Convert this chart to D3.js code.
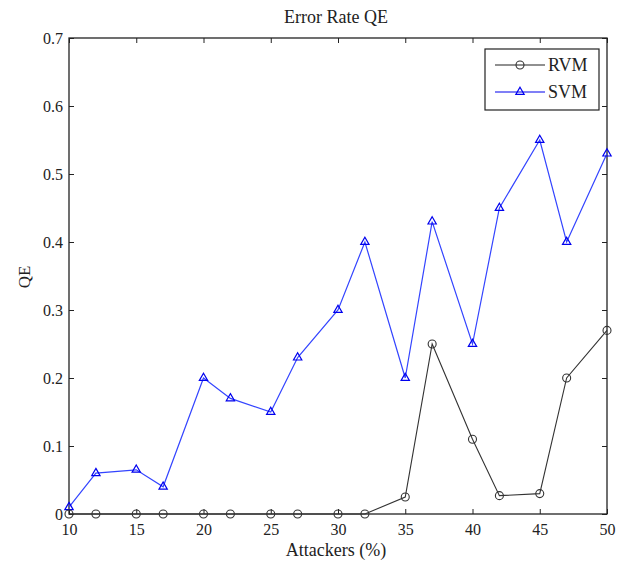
<!DOCTYPE html>
<html>
<head>
<meta charset="utf-8">
<script src="https://cdn.jsdelivr.net/npm/d3@7"></script>
<style>
  html, body { margin: 0; padding: 0; background: #fff; }
  svg text { font-family: "Liberation Serif", "Times New Roman", serif; fill: #222; }
</style>
</head>
<body>
<svg id="chart" width="627" height="567"></svg>
<script>
// Attacker percentage at each measurement
const attackers = [10, 12, 15, 17, 20, 22, 25, 27, 30, 32, 35, 37, 40, 42, 45, 47, 50];
// QE error rate per classifier
const rvmValues = [0, 0, 0, 0, 0, 0, 0, 0, 0, 0, 0.025, 0.25, 0.11, 0.027, 0.03, 0.2, 0.27];
const svmValues = [0.01, 0.06, 0.065, 0.04, 0.2, 0.17, 0.15, 0.23, 0.3, 0.4, 0.2, 0.43, 0.25, 0.45, 0.55, 0.4, 0.53];
const xTicks = [10, 15, 20, 25, 30, 35, 40, 45, 50];
const yTicks = [0, 0.1, 0.2, 0.3, 0.4, 0.5, 0.6, 0.7];
const seriesNames = ["RVM", "SVM"];

const serif = "'Liberation Serif', 'Times New Roman', serif";
const svg = d3.select("#chart");
const m = { left: 69, right: 607, top: 38, bottom: 514 };

const x = d3.scaleLinear().domain([10, 50]).range([m.left, m.right]);
const y = d3.scaleLinear().domain([0, 0.7]).range([m.bottom, m.top]);

const tickLen = 5;

// Bottom axis with labels, top axis as mirrored inward ticks
const gx = svg.append("g").attr("transform", `translate(0,${m.bottom})`)
  .call(d3.axisBottom(x).tickValues(xTicks).tickFormat(d3.format("d"))
    .tickSizeInner(-tickLen).tickSizeOuter(0).tickPadding(9));
const gxTop = svg.append("g").attr("transform", `translate(0,${m.top})`)
  .call(d3.axisTop(x).tickValues(xTicks).tickFormat("")
    .tickSizeInner(-tickLen).tickSizeOuter(0));
const gy = svg.append("g").attr("transform", `translate(${m.left},0)`)
  .call(d3.axisLeft(y).tickValues(yTicks).tickFormat(d => d === 0 ? "0" : d3.format(".1f")(d))
    .tickSizeInner(-tickLen).tickSizeOuter(0).tickPadding(6));
const gyRight = svg.append("g").attr("transform", `translate(${m.right},0)`)
  .call(d3.axisRight(y).tickValues(yTicks).tickFormat("")
    .tickSizeInner(-tickLen).tickSizeOuter(0));

[gx, gxTop, gy, gyRight].forEach(g => {
  g.attr("font-family", serif).attr("font-size", 16);
  g.select(".domain").remove();
  g.selectAll(".tick line").attr("stroke", "#222").attr("stroke-width", 1);
  g.selectAll(".tick text").style("font-family", serif)
    .style("font-size", "16px").attr("fill", "#333");
});
gx.selectAll(".tick text").attr("dy", "0.75em");

// Plot frame
svg.append("rect")
  .attr("x", m.left).attr("y", m.top)
  .attr("width", m.right - m.left).attr("height", m.bottom - m.top)
  .attr("fill", "none").attr("stroke", "#222").attr("stroke-width", 1.3);

const line = d3.line().x(d => x(d[0])).y(d => y(d[1]));
const rvm = attackers.map((a, i) => [a, rvmValues[i]]);
const svm = attackers.map((a, i) => [a, svmValues[i]]);

const triangle = d3.symbol().type(d3.symbolTriangle).size(30);

// SVM series
svg.append("path").datum(svm)
  .attr("d", line).attr("fill", "none").attr("stroke", "#3344ff").attr("stroke-width", 1.2);
svg.append("g").selectAll("path").data(svm).join("path")
  .attr("transform", d => `translate(${x(d[0])},${y(d[1])})`)
  .attr("d", triangle).attr("fill", "none").attr("stroke", "#0000ee").attr("stroke-width", 1.2);

// RVM series
svg.append("path").datum(rvm)
  .attr("d", line).attr("fill", "none").attr("stroke", "#333").attr("stroke-width", 1.1);
svg.append("g").selectAll("circle").data(rvm).join("circle")
  .attr("cx", d => x(d[0])).attr("cy", d => y(d[1])).attr("r", 4)
  .attr("fill", "none").attr("stroke", "#333").attr("stroke-width", 1.1);

// Title and axis labels
svg.append("text").attr("x", 336).attr("y", 23).attr("text-anchor", "middle")
  .style("font-family", serif).style("font-size", "18px").text("Error Rate QE");
svg.append("text").attr("x", 336).attr("y", 556).attr("text-anchor", "middle")
  .style("font-family", serif).style("font-size", "18px").text("Attackers (%)");
svg.append("text").attr("transform", "translate(30,277) rotate(-90)")
  .attr("text-anchor", "middle").style("font-family", serif).style("font-size", "17px").text("QE");

// Legend
const lg = svg.append("g");
lg.append("rect").attr("x", 485).attr("y", 49).attr("width", 114).attr("height", 61)
  .attr("fill", "#fff").attr("stroke", "#222").attr("stroke-width", 1.2);
const rows = [
  { name: seriesNames[0], y: 65, color: "#222", marker: "circle" },
  { name: seriesNames[1], y: 92, color: "#0000ee", marker: "triangle" }
];
rows.forEach(r => {
  lg.append("line").attr("x1", 495).attr("x2", 545).attr("y1", r.y).attr("y2", r.y)
    .attr("stroke", r.color).attr("stroke-width", 1.2);
  if (r.marker === "circle") {
    lg.append("circle").attr("cx", 520).attr("cy", r.y).attr("r", 4)
      .attr("fill", "none").attr("stroke", "#333").attr("stroke-width", 1.1);
  } else {
    lg.append("path").attr("transform", `translate(520,${r.y})`).attr("d", triangle)
      .attr("fill", "none").attr("stroke", r.color).attr("stroke-width", 1.2);
  }
  lg.append("text").attr("x", 548).attr("y", r.y + 6)
    .style("font-family", serif).style("font-size", "18px").text(r.name);
});
</script>
</body>
</html>
